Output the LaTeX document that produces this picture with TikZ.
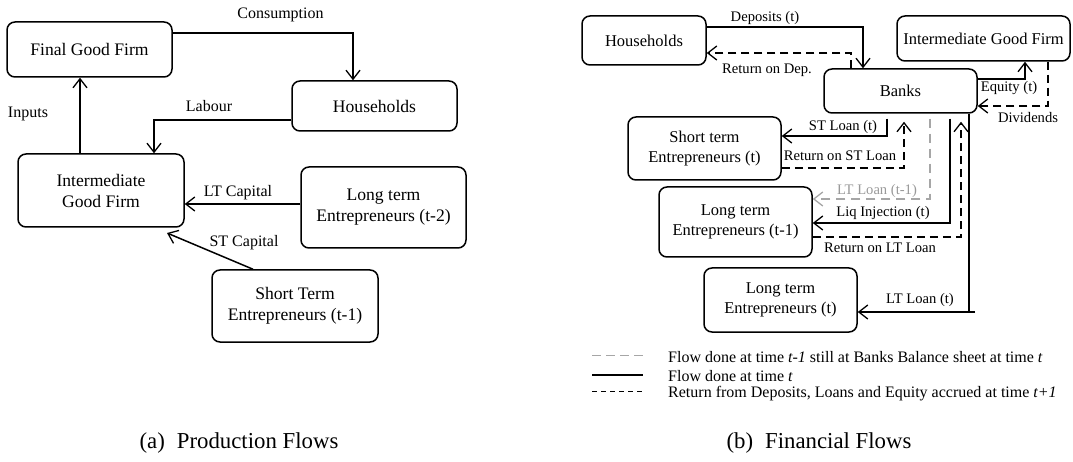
\documentclass[tikz,border=0pt]{standalone}
\usepackage{fontspec}
\setmainfont{Liberation Serif}
\usetikzlibrary{arrows.meta}
\tikzset{
  box/.style={draw, rounded corners=8pt, line width=1.5pt, inner sep=0pt, align=center},
  bigtxt/.style={font=\fontsize{17.6}{21}\selectfont},
  smalltxt/.style={font=\fontsize{16.5}{19.5}\selectfont},
  lab/.style={font=\fontsize{16}{18}\selectfont, inner sep=0pt},
  rlab/.style={font=\fontsize{14.6}{17}\selectfont, inner sep=0pt},
  legtxt/.style={font=\fontsize{16}{18}\selectfont, inner sep=0pt, anchor=west},
  captxt/.style={font=\fontsize{22.8}{26}\selectfont, inner sep=0pt},
  arr/.style={line width=1.5pt, -{Straight Barb[length=9pt,width=14pt,line width=1.3pt]}},
  ret/.style={arr, dash pattern=on 8pt off 5pt},
  old/.style={arr, draw=gray!70, dash pattern=on 9pt off 6pt},
}
\begin{document}
\begin{tikzpicture}[x=1pt,y=-1pt]
\useasboundingbox (0,0) rectangle (1073,462);

% ---------- (a) Production Flows ----------
\node[box,bigtxt,minimum width=165pt,minimum height=55pt] (fgf) at (89.5,49.5) {Final Good Firm};
\node[box,bigtxt,minimum width=165pt,minimum height=50pt] (hh) at (374.5,106) {Households};
\node[box,bigtxt,minimum width=166pt,minimum height=73pt] (igf) at (101,190.5) {Intermediate\\Good Firm};
\node[box,bigtxt,minimum width=165pt,minimum height=81pt] (lte) at (383.5,207.5) {Long term\\Entrepreneurs (t-2)};
\node[box,bigtxt,minimum width=166pt,minimum height=72pt] (ste) at (295,306) {Short Term\\Entrepreneurs (t-1)};

\draw[arr] (fgf.east |- 0,33) -| (hh.north -| 353,0);
\draw[arr] (hh.west |- 0,120) -| (igf.north -| 154,0);
\draw[arr] (igf.north -| 80,0) -- (fgf.south -| 80,0);
\draw[arr] (lte.west |- 0,204) -- (igf.east |- 0,204);
\coordinate (stend) at (167,233);
\draw[arr] (ste.north -| 253,0) -- (stend);

\node[lab] (lcons) at (280.5,15) {Consumption};
\node[lab] (llab) at (209,106) {Labour};
\node[lab] (linp) at (28,114) {Inputs};
\node[lab] (lltc) at (238,193) {LT Capital};
\node[lab] (lstc) at (244,243) {ST Capital};

\node[captxt] (capa) at (239,443) {(a)\hspace{12pt}Production Flows};

% ---------- (b) Financial Flows ----------
\node[box,smalltxt,minimum width=124pt,minimum height=49pt] (hhb) at (644,40.5) {Households};
\node[box,smalltxt,minimum width=173pt,minimum height=45pt] (igfb) at (983.5,38.5) {Intermediate Good Firm};
\node[box,smalltxt,minimum width=153pt,minimum height=44pt] (banks) at (900.5,91) {Banks};
\node[box,smalltxt,minimum width=153pt,minimum height=63pt] (stet) at (704.5,148.5) {Short term\\Entrepreneurs (t)};
\node[box,smalltxt,minimum width=153pt,minimum height=70pt] (lte1) at (735.5,222) {Long term\\Entrepreneurs (t-1)};
\node[box,smalltxt,minimum width=153pt,minimum height=64pt] (ltet) at (780.5,300) {Long term\\Entrepreneurs (t)};

\draw[arr] (hhb.east |- 0,27) -| (banks.north -| 863,0);
\draw[ret] (banks.north -| 851,0) |- (hhb.east |- 0,53);
\draw[arr] (banks.east |- 0,79) -| (igfb.south -| 1025,0);
\draw[ret] (igfb.south -| 1048,0) |- (banks.east |- 0,106);
\draw[arr, shorten <=5pt] (banks.south -| 887,0) |- (stet.east |- 0,136);
\draw[ret, shorten >=8pt] (stet.east |- 0,168) -| (banks.south -| 904,0);
\draw[old, shorten <=5pt] (banks.south -| 930,0) |- (lte1.east |- 0,199);
\draw[arr, shorten <=5pt] (banks.south -| 950,0) |- (lte1.east |- 0,223);
\draw[ret, shorten >=8pt] (lte1.east |- 0,237) -| (banks.south -| 961,0);
\coordinate (ltc) at (975,312);
\draw[line width=1.5pt] (banks.south -| 969,0) -- (ltc -| 969,0);
\draw[arr] (ltc) -- (ltet.east |- ltc);

\node[rlab] (ldep) at (765,18) {Deposits (t)};
\node[rlab] (lrdep) at (767,70) {Return on Dep.};
\node[rlab] (leq) at (1009,88) {Equity (t)};
\node[rlab] (ldiv) at (1028,118) {Dividends};
\node[rlab] (lstl) at (843,127) {ST Loan (t)};
\node[rlab] (lrst) at (840,156) {Return on ST Loan};
\node[rlab, text=gray!80] (lltl1) at (877,191) {LT Loan (t-1)};
\node[rlab] (lliq) at (883,213) {Liq Injection (t)};
\node[rlab] (lrlt) at (880,248) {Return on LT Loan};
\node[rlab] (lltlt) at (920,300) {LT Loan (t)};

% legend
\coordinate (g1a) at (592,355); \coordinate (g1b) at (643,355);
\coordinate (g2a) at (592,375); \coordinate (g2b) at (643,375);
\coordinate (g3a) at (592,391); \coordinate (g3b) at (643,391);
\draw[draw=gray!70, line width=1pt, dash pattern=on 9pt off 5pt] (g1a) -- (g1b);
\draw[line width=2pt] (g2a) -- (g2b);
\draw[line width=1pt, dash pattern=on 5pt off 4pt] (g3a) -- (g3b);
\node[legtxt] (t1) at (668,357) {Flow done at time \textit{t-1} still at Banks Balance sheet at time \textit{t}};
\node[legtxt] (t2) at (668,376) {Flow done at time \textit{t}};
\node[legtxt] (t3) at (668,394) {Return from Deposits, Loans and Equity accrued at time \textit{t+1}};

\node[captxt] (capb) at (819,443) {(b)\hspace{12pt}Financial Flows};
\end{tikzpicture}
\end{document}
